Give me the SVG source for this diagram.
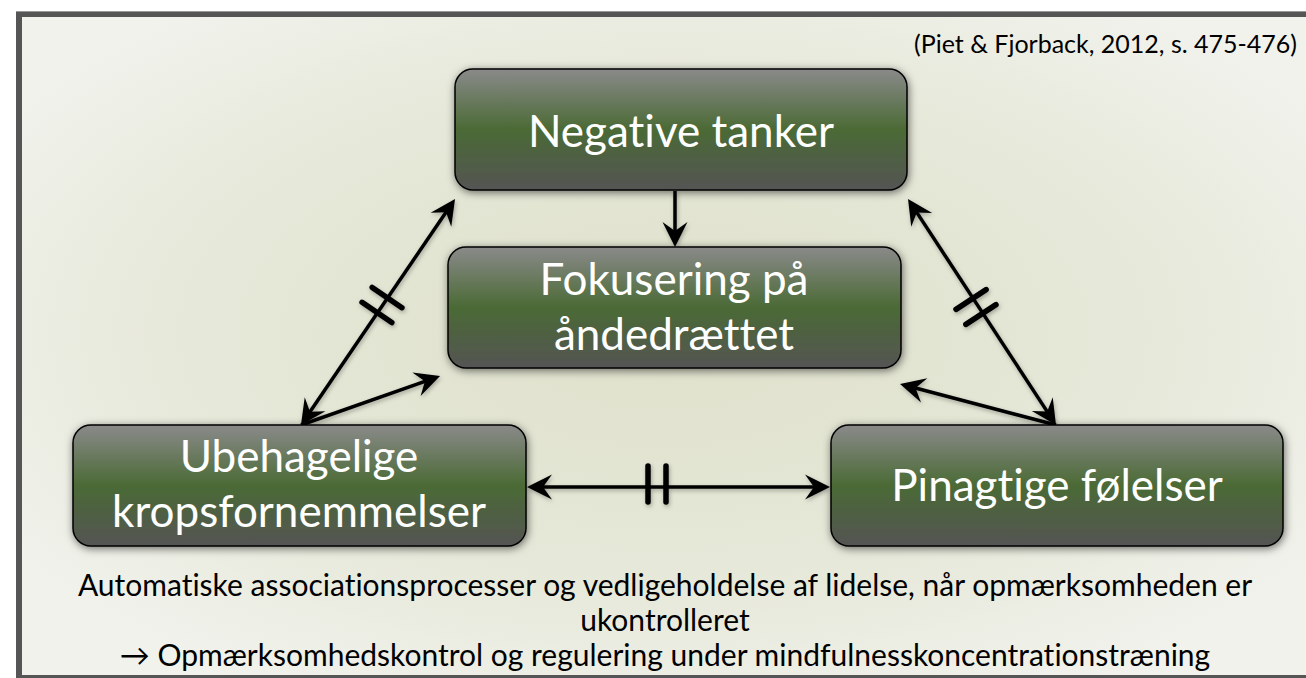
<svg xmlns="http://www.w3.org/2000/svg" width="1306" height="678" viewBox="0 0 1306 678">
<defs>
<radialGradient id="bg" cx="0.5" cy="0.48" r="0.62">
<stop offset="0" stop-color="#dfe1cb"/>
<stop offset="0.6" stop-color="#e6e8d9"/>
<stop offset="1" stop-color="#f1f2ec"/>
</radialGradient>
<linearGradient id="node" x1="0" y1="0" x2="0" y2="1">
<stop offset="0" stop-color="#8a8a8a"/>
<stop offset="0.5" stop-color="#4b6a35"/>
<stop offset="1" stop-color="#545454"/>
</linearGradient>
<filter id="sh" x="-10%" y="-20%" width="120%" height="150%">
<feDropShadow dx="1" dy="2" stdDeviation="4" flood-color="#000" flood-opacity="0.55"/>
</filter>
<filter id="lsh" x="-20%" y="-20%" width="140%" height="140%">
<feDropShadow dx="1" dy="2" stdDeviation="2" flood-color="#000" flood-opacity="0.3"/>
</filter>
<marker id="ah" markerUnits="userSpaceOnUse" viewBox="-16 -13 27 26" markerWidth="27" markerHeight="26" refX="0" refY="0" orient="auto-start-reverse">
<path d="M10,0 L-15,-12.5 L-6,0 L-15,12.5 Z" fill="#000"/>
</marker>
</defs>
<style>
text{font-variant-ligatures:none;font-feature-settings:"liga" 0,"dlig" 0}
.box{fill:url(#node);stroke:#000;stroke-width:1.5;filter:url(#sh)}
.nt{font-family:Lato,"Open Sans",sans-serif;font-size:44px;fill:#fff;text-anchor:middle}
.ln{stroke:#000;stroke-width:3.5;fill:none}
.bar{stroke:#000;stroke-width:5.5;stroke-linecap:round}
.cap{font-family:Lato,"Open Sans",sans-serif;font-size:30px;fill:#000;text-anchor:middle}
</style>
<rect x="0" y="0" width="1306" height="678" fill="#fff"/>
<rect x="16" y="11" width="1290" height="667" fill="#555"/>
<rect x="16" y="11" width="1290" height="1" fill="#999"/>
<rect x="22" y="17" width="1284" height="658" fill="url(#bg)"/>
<text x="1297" y="53" class="cap" style="text-anchor:end;font-size:25px">(Piet &amp; Fjorback, 2012, s. 475-476)</text>

<g id="connectors" filter="url(#lsh)">
<line class="ln" x1="675" y1="191" x2="675" y2="237" marker-end="url(#ah)"/>
<line class="ln" x1="306.6" y1="416.7" x2="449.4" y2="207.3" marker-start="url(#ah)" marker-end="url(#ah)"/>
<line class="ln" x1="301" y1="425" x2="430.6" y2="379.3" marker-end="url(#ah)"/>
<line class="ln" x1="913.5" y1="207.4" x2="1050.5" y2="416.6" marker-start="url(#ah)" marker-end="url(#ah)"/>
<line class="ln" x1="1056" y1="425" x2="909.7" y2="386.5" marker-end="url(#ah)"/>
<line class="ln" x1="537" y1="487" x2="820" y2="487" marker-start="url(#ah)" marker-end="url(#ah)"/>
<g transform="translate(382,305) rotate(-55.7)"><line class="bar" x1="-9" y1="-18" x2="-9" y2="18"/><line class="bar" x1="9" y1="-18" x2="9" y2="18"/></g>
<g transform="translate(976,307) rotate(56.8)"><line class="bar" x1="-9" y1="-18" x2="-9" y2="18"/><line class="bar" x1="9" y1="-18" x2="9" y2="18"/></g>
<g transform="translate(657,484)"><line class="bar" x1="-9" y1="-18" x2="-9" y2="18"/><line class="bar" x1="9" y1="-18" x2="9" y2="18"/></g>
</g>

<g id="n-negative">
<rect class="box" x="455" y="69" width="452" height="121" rx="18"/>
<text class="nt" x="681" y="147">Negative tanker</text>
</g>
<g id="n-fokus">
<rect class="box" x="448" y="247" width="453" height="121" rx="18"/>
<text class="nt" x="674" y="295">Fokusering på</text>
<text class="nt" x="674" y="350">åndedrættet</text>
</g>
<g id="n-ubehag">
<rect class="box" x="73" y="425" width="453" height="121" rx="18"/>
<text class="nt" x="299" y="472">Ubehagelige</text>
<text class="nt" x="299" y="527">kropsfornemmelser</text>
</g>
<g id="n-pinagtig">
<rect class="box" x="831" y="425" width="452" height="121" rx="18"/>
<text class="nt" x="1057" y="501">Pinagtige følelser</text>
</g>

<g id="caption">
<text class="cap" x="665" y="596">Automatiske associationsprocesser og vedligeholdelse af lidelse, når opmærksomheden er</text>
<text class="cap" x="665" y="631">ukontrolleret</text>
<text class="cap" x="665" y="666">→ Opmærksomhedskontrol og regulering under mindfulnesskoncentrationstræning</text>
</g>
</svg>
